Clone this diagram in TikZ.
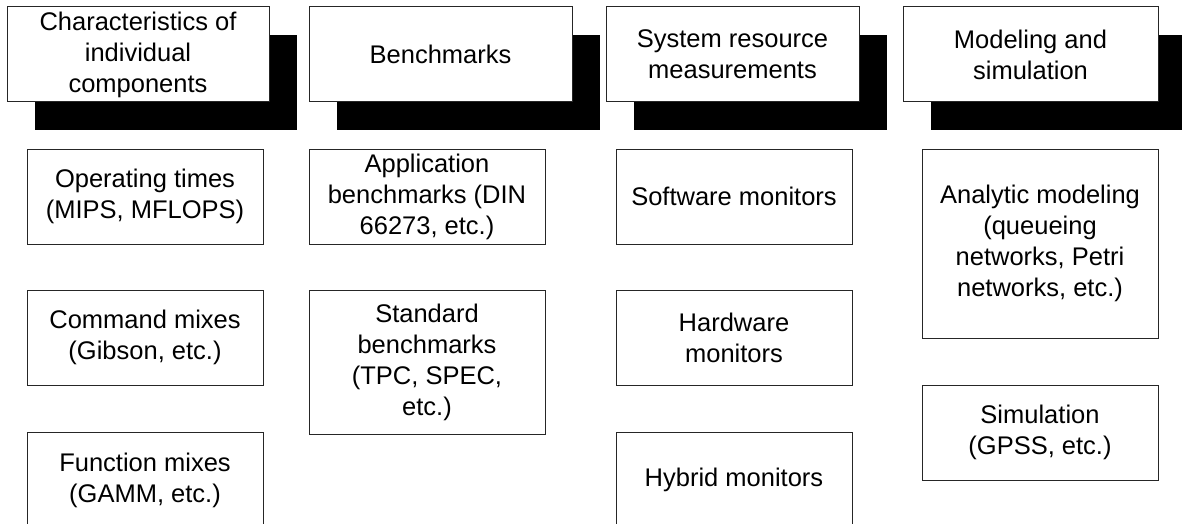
\documentclass[tikz,border=0pt]{standalone}
\usepackage{fontspec}
\setmainfont{Liberation Sans}
\usetikzlibrary{shadows}
\begin{document}
\begin{tikzpicture}[x=1pt,y=-1pt,
  box/.style={draw=black!85, line width=1pt, fill=white, align=center, inner sep=0pt,
    font=\fontsize{25.5}{31}\selectfont},
  hdr/.style={box, drop shadow={shadow xshift=28pt, shadow yshift=-28pt, fill=black, opacity=1, draw=none}},
  colA/.style={box, minimum width=236pt},
]
\useasboundingbox (0,0) rectangle (1182,524);
\clip (0,0) rectangle (1182,524);
% headers
\node[hdr, minimum width=262pt, minimum height=95pt] (h1) at (138,54.5) {Characteristics of\\individual\\components};
\node[hdr, minimum width=263pt, minimum height=95pt] (h2) at (440.5,54.5) {Benchmarks};
\node[hdr, minimum width=253pt, minimum height=95pt] (h3) at (732.5,54.5) {System resource\\measurements};
\node[hdr, minimum width=255pt, minimum height=95pt] (h4) at (1030.5,54.5) {Modeling and\\simulation};
% column 1
\node[colA, minimum height=95pt] (c1a) at (145,196.5) {Operating times\\(MIPS, MFLOPS)};
\node[colA, minimum height=95pt] (c1b) at (145,337.5) {Command mixes\\(Gibson, etc.)};
\node[colA, minimum height=96pt] (c1c) at (145,480) {Function mixes\\(GAMM, etc.)};
% column 2
\node[colA, minimum height=95pt] (c2a) at (427,196.5) {Application\\benchmarks (DIN\\66273, etc.)};
\node[colA, minimum height=144pt] (c2b) at (427,362) {Standard\\benchmarks\\(TPC, SPEC,\\etc.)};
% column 3
\node[colA, minimum height=95pt] (c3a) at (734,196.5) {Software monitors};
\node[colA, minimum height=95pt] (c3b) at (734,337.5) {Hardware\\monitors};
\node[colA, minimum height=96pt] (c3c) at (734,480) {Hybrid monitors};
% column 4
\node[colA, minimum height=189pt] (c4a) at (1040,243.5) {Analytic modeling\\(queueing\\networks, Petri\\networks, etc.)};
\node[colA, minimum height=95pt] (c4b) at (1040,432.5) {Simulation\\(GPSS, etc.)};
\end{tikzpicture}
\end{document}
